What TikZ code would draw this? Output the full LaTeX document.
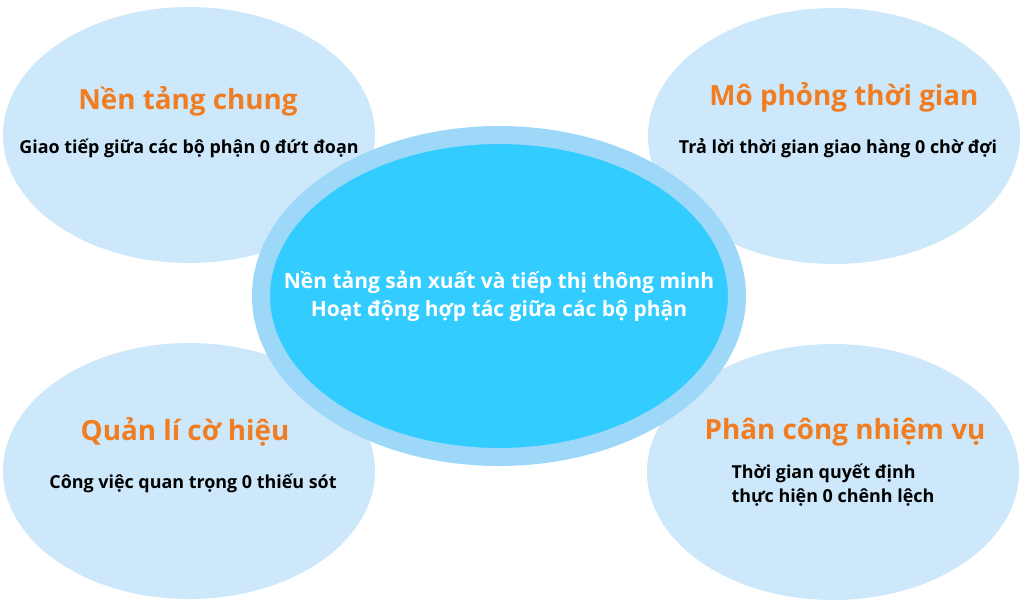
\documentclass[tikz,border=0pt]{standalone}
\usepackage{fontspec}
\setmainfont{Open Sans}
\usetikzlibrary{shapes.geometric}
\definecolor{bubble}{HTML}{CCE8FA}
\definecolor{ring}{HTML}{9DD8F9}
\definecolor{core}{HTML}{33CCFF}
\definecolor{title}{HTML}{F07D22}
\tikzset{
  bubble/.style={ellipse, fill=bubble, minimum width=372pt, minimum height=256pt, inner sep=0pt},
  head/.style={text=title, font=\fontsize{27.8}{32}\selectfont\bfseries},
  body/.style={text=black, font=\fontsize{17.9}{24.5}\selectfont\bfseries}
}
\begin{document}
\begin{tikzpicture}[x=1pt,y=-1pt]
\useasboundingbox (0,0) rectangle (1024,608);

% four corner bubbles
\node[bubble] (tl) at (189,135) {};
\node[bubble] (tr) at (834,136) {};
\node[bubble] (bl) at (189,471) {};
\node[bubble] (br) at (833,472) {};

% centre
\node[ellipse, fill=core, draw=ring, line width=18pt, minimum width=476pt, minimum height=322pt, inner sep=0pt] (hub) at (499,296) {};
\node[text=white, font=\fontsize{21}{28}\selectfont\bfseries, align=center] (hubtext) at (hub.center) {Nền tảng sản xuất và tiếp thị thông minh\\Hoạt động hợp tác giữa các bộ phận};

\node[head] (tlhead) at (188,101) {Nền tảng chung};
\node[body] (tlbody) at (189,148) {Giao tiếp giữa các bộ phận 0 đứt đoạn};

\node[head] (trhead) at (844,97) {Mô phỏng thời gian};
\node[body] (trbody) at (838,148) {Trả lời thời gian giao hàng 0 chờ đợi};

\node[head] (blhead) at (185,432) {Quản lí cờ hiệu};
\node[body] (blbody) at (193,483) {Công việc quan trọng 0 thiếu sót};

\node[head] (brhead) at (845,432) {Phân công nhiệm vụ};
\node[body, align=left, anchor=west] (brbody) at (728,485) {Thời gian quyết định\\thực hiện 0 chênh lệch};

\end{tikzpicture}
\end{document}
